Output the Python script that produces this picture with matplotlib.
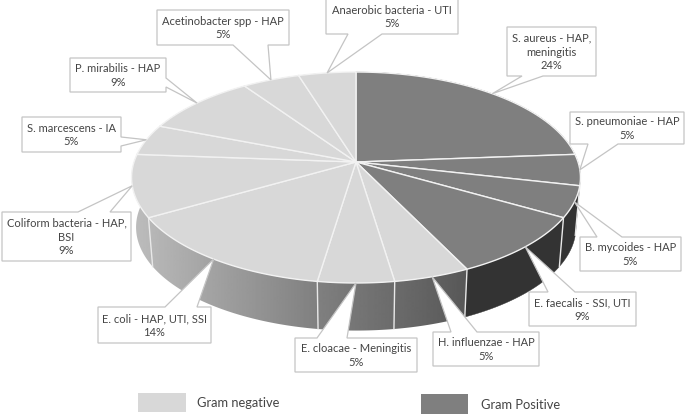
import numpy as np
import matplotlib
matplotlib.use("Agg")
import matplotlib.pyplot as plt
from matplotlib.patches import Polygon, Rectangle

# ---- data (clockwise from 12 o'clock) ----
labels = ["S. aureus - HAP,\nmeningitis", "S. pneumoniae - HAP", "B. mycoides - HAP",
          "E. faecalis - SSI, UTI", "H. influenzae - HAP", "E. cloacae - Meningitis",
          "E. coli - HAP, UTI, SSI", "Coliform bacteria - HAP,\nBSI", "S. marcescens - IA",
          "P. mirabilis - HAP", "Acetinobacter spp - HAP", "Anaerobic bacteria - UTI"]
counts = [5, 1, 1, 2, 1, 1, 3, 2, 1, 2, 1, 1]
percents = [24, 5, 5, 9, 5, 5, 14, 9, 5, 9, 5, 5]
groups = ["pos", "pos", "pos", "pos", "neg", "neg", "neg", "neg", "neg", "neg", "neg", "neg"]
legend_names = {"neg": "Gram negative", "pos": "Gram Positive"}

# ---- layout (pixels) ----
# box x0, y0, x1, y1, side of the pointer, pointer base start, pointer base end
boxes = [(507, 27, 596, 76, "bottom", 522, 543),
         (570, 112, 684, 144, "bottom", 588, 618),
         (580, 237, 681, 271, "top", 597, 622),
         (529, 292, 636, 326, "top", 548, 575),
         (433, 332, 539, 366, "top", 451, 477),
         (295, 338, 417, 372, "top", 317, 347),
         (98, 307, 211, 343, "top", 165, 197),
         (2, 212, 131, 261, "top", 78, 110),
         (22, 117, 121, 152, "right", 137, 146),
         (70, 58, 166, 92, "right", 78, 87),
         (157, 10, 289, 45, "bottom", 233, 268),
         (326, -1, 458, 34, "bottom", 348, 382)]
CX, CY, RX, RY, K = 356.0, 162.0, 222.0, 103.2, 0.147
DEPTH, SHRINK = 50.0, 0.98
TOP = {"neg": "#D8D8D8", "pos": "#7F7F7F"}
DARK_WALL = "#333333"
TXT = "#444444"
EDGE = "#c4c4c4"
FONT = "Lato"
FS = 8.0
LEGEND_FS = 9.3


def project(frac, dy=0.0, s=1.0):
    """Clockwise fraction around the pie to perspective-projected pixels."""
    t = 2 * np.pi * np.asarray(frac, float)
    u, v = np.sin(t), np.cos(t)
    w = 1 + K * v
    return CX + s * RX * u / w, CY + dy - s * RY * v / w


fig = plt.figure(figsize=(6.85, 4.15), dpi=100, facecolor="white")
ax = fig.add_axes([0, 0, 1, 1])
ax.axis("off")

edges = np.concatenate([[0], np.cumsum(counts)]) / float(np.sum(counts))

# gradient shared by the walls of the light slices
grad_x = np.linspace(130, 470, 341)
grad_g = np.interp(grad_x, [135, 317, 466], [0xBC, 0x80, 0x58]) / 255

# side walls
for a, b, g in zip(edges[:-1], edges[1:], groups):
    ps = np.linspace(a, b, 80)
    x0, y0 = project(ps)
    x1, y1 = project(ps, dy=DEPTH, s=SHRINK)
    pts = list(zip(x0, y0)) + list(zip(x1[::-1], y1[::-1]))
    if g == "pos":
        ax.add_patch(Polygon(pts, closed=True, facecolor=DARK_WALL, edgecolor=DARK_WALL, lw=0.3, zorder=1))
    else:
        clip = Polygon(pts, closed=True, transform=ax.transData, facecolor="none", edgecolor="none")
        ax.add_patch(clip)
        im = ax.imshow(grad_g[None, :], cmap="gray", vmin=0, vmax=1, aspect="auto",
                       extent=(130, 470, 415, 0), zorder=1, interpolation="bilinear")
        im.set_clip_path(clip)
for e in edges[:-1]:
    x0, y0 = project(e)
    x1, y1 = project(e, dy=DEPTH, s=SHRINK)
    ax.plot([x0, x1], [y0, y1], color="#e8e8e8", lw=1.0, zorder=2)

# top faces
for a, b, g in zip(edges[:-1], edges[1:], groups):
    ps = np.linspace(a, b, 80)
    xs, ys = project(ps)
    pts = [(CX, CY)] + list(zip(xs, ys))
    ax.add_patch(Polygon(pts, closed=True, facecolor=TOP[g], edgecolor="#f2f2f2", lw=1.0, zorder=3))

# callouts: pointer tip sits on the rim at the middle of each slice
mids = (edges[:-1] + edges[1:]) / 2
for lab, val, m, (x0, y0, x1, y1, side, p0, p1) in zip(labels, percents, mids, boxes):
    tx, ty = project(m)
    pts = [(x0, y0)]
    if side == "top":
        pts += [(p0, y0), (tx, ty), (p1, y0)]
    pts += [(x1, y0)]
    if side == "right":
        pts += [(x1, p0), (tx, ty), (x1, p1)]
    pts += [(x1, y1)]
    if side == "bottom":
        pts += [(p1, y1), (tx, ty), (p0, y1)]
    pts += [(x0, y1)]
    ax.add_patch(Polygon(pts, closed=True, facecolor="white", edgecolor=EDGE, lw=0.9, zorder=4,
                         joinstyle="miter"))
    ax.text((x0 + x1) / 2, (y0 + y1) / 2 + 0.5, f"{lab}\n{val}%", ha="center", va="center",
            family=FONT, fontsize=FS, color=TXT, linespacing=1.33, zorder=5)

# legend
ax.add_patch(Rectangle((138, 393), 48, 19, facecolor=TOP["neg"], edgecolor="none", zorder=3))
ax.text(197, 403, legend_names["neg"], family=FONT, fontsize=LEGEND_FS, color=TXT, va="center", ha="left")
ax.add_patch(Rectangle((421, 394), 47, 20, facecolor=TOP["pos"], edgecolor="none", zorder=3))
ax.text(481, 405, legend_names["pos"], family=FONT, fontsize=LEGEND_FS, color=TXT, va="center", ha="left")

ax.set_xlim(0, 685)
ax.set_ylim(415, 0)
fig.savefig("out.png", dpi=100)
